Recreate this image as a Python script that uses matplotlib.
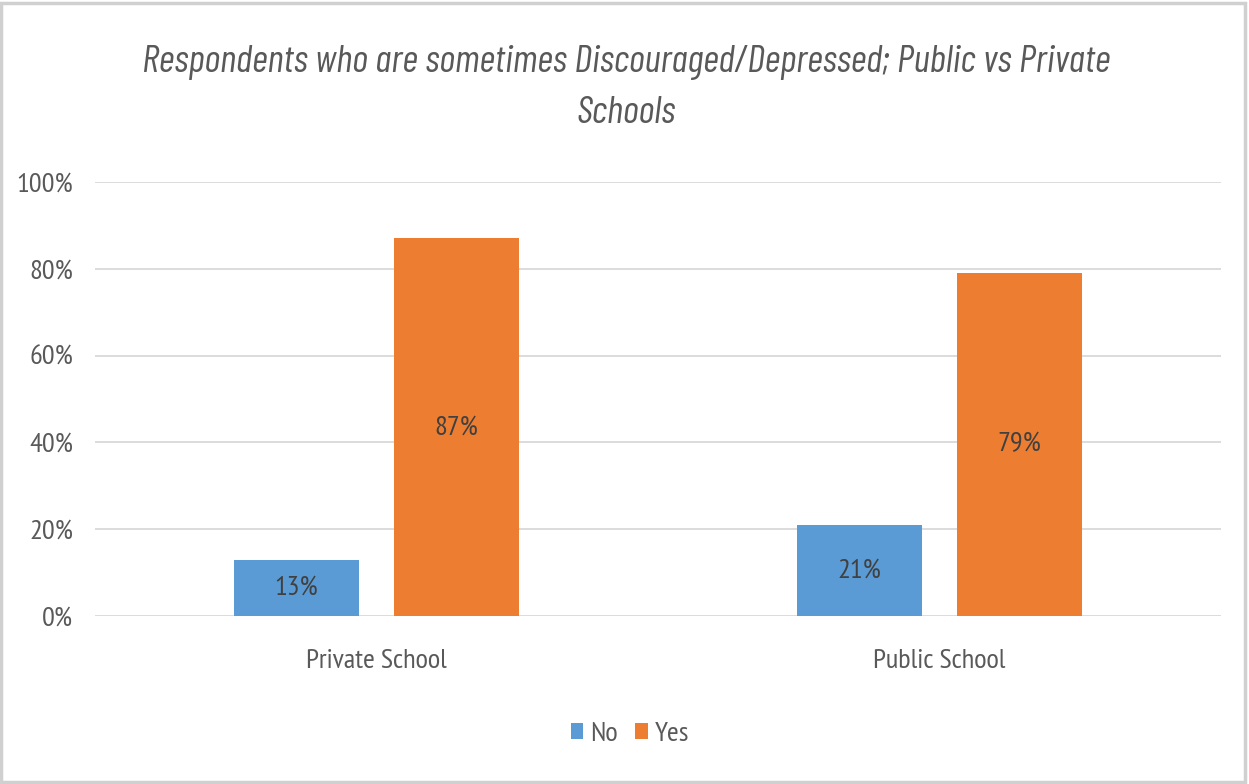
import matplotlib
matplotlib.use("Agg")
import matplotlib.pyplot as plt
from matplotlib.patches import Rectangle, Patch
from matplotlib.font_manager import FontProperties
from matplotlib.textpath import TextPath
import numpy as np

categories = ["Private School", "Public School"]
series_names = ["No", "Yes"]
no_values = [13, 21]
yes_values = [87, 79]
y_ticks = [0, 20, 40, 60, 80, 100]
title_lines = ["Respondents who are sometimes Discouraged/Depressed; Public vs Private", "Schools"]

label_family = ["PT Sans Narrow", "DejaVu Sans"]
title_family = ["Barlow Condensed", "DejaVu Sans"]
plt.rcParams["font.family"] = label_family

text_color = "#595959"
value_color = "#404040"
blue = "#5B9BD5"
orange = "#ED7D31"
grid_color = "#D9D9D9"
label_size = 20.5

W, H = 1249, 784
fig = plt.figure(figsize=(W / 100, H / 100), dpi=100)
ax = fig.add_axes([95 / W, 1 - 616 / H, (1221 - 95) / W, (616 - 182) / H])

x = np.arange(len(categories))
width = 0.222
offset = 0.1425
bars_no = ax.bar(x - offset, no_values, width, color=blue, zorder=3)
bars_yes = ax.bar(x + offset, yes_values, width, color=orange, zorder=3)

for bars, vals in ((bars_no, no_values), (bars_yes, yes_values)):
    for b, v in zip(bars, vals):
        ax.text(b.get_x() + b.get_width() / 2, v / 2, f"{v}%", ha="center",
                va="center", fontsize=label_size, color=value_color, zorder=4)

ax.set_xlim(-0.5, 1.5)
ax.set_ylim(0, 100)
ax.set_yticks(y_ticks)
ax.set_yticklabels([f"{t}%" for t in y_ticks], fontsize=label_size, color=text_color)
ax.set_xticks(x)
ax.set_xticklabels(categories, fontsize=label_size, color=text_color)
ax.tick_params(axis="both", length=0)
ax.tick_params(axis="y", pad=16)
ax.tick_params(axis="x", pad=24)
ax.grid(axis="y", color=grid_color, linewidth=1.3, zorder=0)
for s in ax.spines.values():
    s.set_visible(False)

# size the title so its first line spans about 966 px
probe = FontProperties(family=title_family, style="italic", size=100)
probe_w = TextPath((0, 0), title_lines[0], prop=probe).get_extents().width
title_px = 966 / probe_w * 100
fig.text(626 / W, 1 - 88 / H, "\n".join(title_lines), ha="center", va="center",
         fontsize=title_px * 0.72, family=title_family, style="italic",
         color=text_color, linespacing=1.6)

handles = [Patch(facecolor=blue), Patch(facecolor=orange)]
fig.legend(handles, series_names, loc="center", bbox_to_anchor=(630 / W, 1 - 734 / H),
           ncol=2, frameon=False, fontsize=label_size, handlelength=0.45, handleheight=0.45,
           handletextpad=0.25, columnspacing=0.6, labelcolor=text_color)

fig.patches.append(Rectangle((0.001, 0.003), 0.996, 0.993, transform=fig.transFigure,
                             fill=False, edgecolor="#D0D0D0", linewidth=2.5))

fig.savefig("out.png", dpi=100, facecolor="white")
